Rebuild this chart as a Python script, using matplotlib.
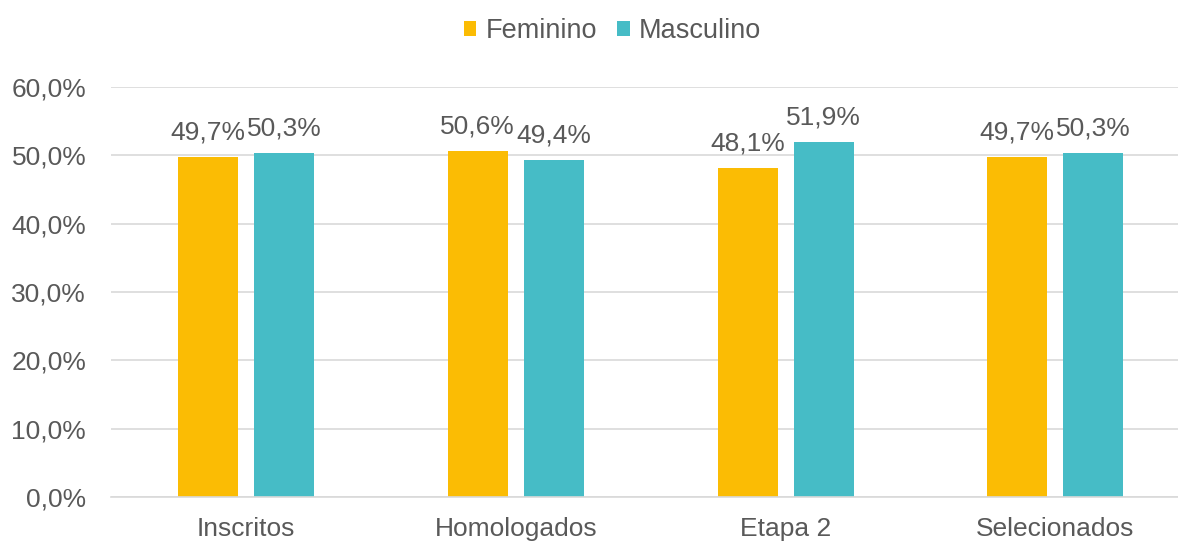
import matplotlib.pyplot as plt
import numpy as np

plt.rcParams['font.family'] = ['Liberation Sans', 'DejaVu Sans']

categorias = ["Inscritos", "Homologados", "Etapa 2", "Selecionados"]
feminino = [49.7, 50.6, 48.1, 49.7]
masculino = [50.3, 49.4, 51.9, 50.3]

cor_fem = "#FBBC04"
cor_masc = "#46BCC6"
cinza = "#595959"

fig = plt.figure(figsize=(11.78, 5.41), dpi=100)
# o eixo passa um pouco da borda direita, como no original recortado
ax = fig.add_axes([0.0944, 0.081, 0.916, 0.758])

x = np.arange(len(categorias))
w = 0.222
off = 0.141
b1 = ax.bar(x - off, feminino, w, color=cor_fem, label="Feminino", zorder=2)
b2 = ax.bar(x + off, masculino, w, color=cor_masc, label="Masculino", zorder=2)

for bars, vals in ((b1, feminino), (b2, masculino)):
    for b, v in zip(bars, vals):
        ax.annotate(f"{v:.1f}%".replace(".", ","), (b.get_x() + b.get_width() / 2, v),
                    xytext=(0, 9), textcoords="offset points", ha="center", va="bottom",
                    fontsize=19, color=cinza)

ax.set_xlim(-0.5, 3.5)
ax.set_ylim(0, 60)
ax.set_yticks(np.arange(0, 61, 10))
ax.set_yticklabels([f"{t:.1f}%".replace(".", ",") for t in np.arange(0, 61, 10)])
ax.set_xticks(x)
ax.set_xticklabels(categorias)
ax.tick_params(axis="both", length=0, labelsize=19, colors=cinza)
ax.tick_params(axis="y", pad=18)
ax.tick_params(axis="x", pad=14)
ax.grid(axis="y", color="#D9D9D9", linewidth=1.2, zorder=0)
for s in ("top", "right", "left"):
    ax.spines[s].set_visible(False)
ax.spines["bottom"].set_color("#D9D9D9")
ax.spines["bottom"].set_linewidth(1.2)

fig.legend(loc="upper center", bbox_to_anchor=(0.52, 1.012), ncol=2, frameon=False,
           fontsize=19.5, labelcolor=cinza, handlelength=0.45, handleheight=0.45,
           handletextpad=0.35, columnspacing=0.75)

fig.savefig("out.png", dpi=100)
